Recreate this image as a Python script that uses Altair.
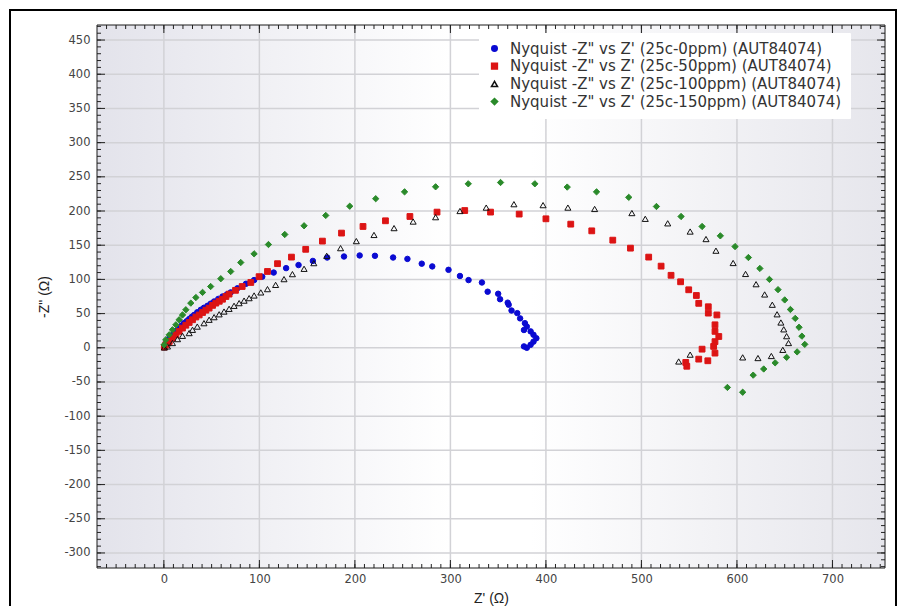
import altair as alt
import pandas as pd

# ---------------- data ----------------
series_names = [
    'Nyquist -Z" vs Z\' (25c-0ppm) (AUT84074)',
    'Nyquist -Z" vs Z\' (25c-50ppm) (AUT84074)',
    'Nyquist -Z" vs Z\' (25c-100ppm) (AUT84074)',
    'Nyquist -Z" vs Z\' (25c-150ppm) (AUT84074)',
]

blue_x = [0.3, 1, 2, 4, 5.6, 8, 10.8, 13, 16, 18.5, 21, 24, 26.5, 29, 31.7, 35, 38.7, 42, 45.7, 49,
          52.6, 57, 61.4, 66, 70, 77, 86, 94.5, 103, 115, 128, 141, 156, 171, 188.6, 205, 221, 240,
          255, 270, 281, 298, 310, 319, 333, 339, 350, 352, 360, 361, 364, 370, 373, 378, 380, 377,
          384, 387, 390, 387, 384, 377, 380]
blue_y = [1, 3, 6, 10, 14, 18, 21.5, 25, 29, 32.5, 36, 39, 42, 45, 48, 52, 55.6, 58.5, 61.4, 64.5,
          67.7, 71.5, 75, 78, 81, 87, 93.6, 99, 104, 110, 116.5, 121, 127, 132, 133.5, 135, 134.5, 132,
          130, 123, 119, 114, 105, 99, 95.5, 82, 79, 71, 66, 63, 54.5, 50.7, 43, 36, 31, 26,
          24, 19, 14, 9, 4.4, 2, 0]

red_x = [0.5, 2, 4, 5.6, 9, 12.6, 16, 19.5, 23, 26.5, 30, 33.5, 37, 40.5, 44, 47.4, 51, 54.4, 58, 61.4,
         65, 68.3, 75, 82, 91, 99.7, 108.5, 119, 133.6, 148.5, 166, 186, 208.5, 232, 257.6, 286, 315,
         342, 372, 400, 426, 448, 470, 488.5, 507.6, 520.6, 531, 541, 549.5, 557.5, 560, 570, 570,
         579, 577, 577, 581, 577, 575.6, 577, 563.5, 560, 569.5, 546.4, 547.5]
red_y = [1, 4.4, 7, 9.2, 14, 19, 24, 28.8, 33, 37, 41, 45, 48, 51.6, 55, 58, 62, 65.3, 68, 71,
         75, 78.5, 84, 89.6, 95.5, 104, 111.6, 123, 132.6, 144, 156, 167.7, 177.4, 185.7, 192, 198.4, 200.7,
         198.4, 195.5, 188.6, 180.8, 171, 157.4, 145.7, 132.6, 119.4, 106, 96.5, 84.8, 76.5, 65, 60, 50.7,
         48, 33.6, 24, 16.5, 9, 2, -7.8, -2, -16.6, -19, -21.4, -27]

black_x = [0.5, 3.8, 9, 14.3, 19.5, 26.5, 30, 35, 42, 47.4, 52.6, 57.9, 63, 68.3, 73.5, 78.8, 84, 89.3,
           94.5, 101.5, 108.5, 117, 125.8, 134.6, 146.8, 157, 170.5, 185, 201.5, 220, 241, 261, 284.5,
           310, 337.5, 366.5, 397, 423, 451, 490, 504, 527.5, 551, 567.6, 578, 596, 609, 620, 629, 637,
           642, 646, 649, 652, 654, 648, 636, 622, 606, 551, 539]
black_y = [0.5, 2, 7, 12.7, 17.5, 21.5, 26.3, 31, 36, 41, 44.8, 49, 53, 57, 61.4, 65.3, 69, 72.6,
           76.5, 81, 85.8, 92, 100.4, 107.7, 115.5, 123.8, 134.5, 145.7, 156, 165, 175, 184.6, 191,
           200, 205, 210, 208.6, 205, 203, 197, 188.6, 182, 170, 159, 142, 124, 108, 93, 78, 63,
           49, 37, 27, 17, 7, -3, -12, -15, -14, -10, -20]

green_x = [0.3, 2, 5.6, 9, 12.6, 16, 19.5, 23, 28.2, 33.5, 40.5, 49, 59.6, 70, 80.5, 94.5, 109.5,
           126.6, 146.8, 169.5, 194.6, 221.8, 252, 284.5, 318.7, 352.5, 388.4, 422.3, 453, 486.7,
           515.7, 541.5, 563.5, 582.6, 598, 612, 624, 634, 643, 650, 656, 661, 665, 668, 671, 663,
           652, 640, 628, 617, 606, 590]
green_y = [4.4, 11.7, 19, 26.3, 33.6, 41, 48, 55.6, 65.3, 73.5, 81, 89.6, 101, 111.6, 124.7, 137.4, 151,
           165.7, 178.4, 193.5, 207, 218, 228, 235.4, 239.8, 241.7, 239.8, 235, 228, 220,
           206.6, 192, 177.4, 163.7, 148, 132, 116, 100, 85, 70, 56, 43, 30, 17, 5, -6,
           -14, -22, -31, -40, -65, -58]

# axis ticks / grid values
x_major = [0, 100, 200, 300, 400, 500, 600, 700]
y_major = [-300, -250, -200, -150, -100, -50, 0, 50, 100, 150, 200, 250, 300, 350, 400, 450]
x_minor = list(range(-60, 751, 10))
y_minor = list(range(-320, 471, 10))

# ---------------- layout ----------------
W, H = 788, 543
PAD_L, PAD_T, PAD_R, PAD_B = 89, 17, 13, 38
XDOM = [-70, 755]
YDOM = [-322, 472]
FONT = "Liberation Sans"
COLORS = ["#0a0ad2", "#dc1414", "#111111", "#2a8a2a"]
HYPHEN = "datum.value < 0 ? '-' + abs(datum.value) : '' + datum.value"

xs = alt.Scale(domain=XDOM, nice=False, zero=False)
ys = alt.Scale(domain=YDOM, nice=False, zero=False)

ax_x = alt.Axis(title="Z' (Ω)", values=x_major, ticks=False, domain=False, grid=False,
                labelPadding=5, labelFontSize=11.5, labelColor="#444", labelFont="DejaVu Sans",
                labelExpr=HYPHEN,
                titleFont=FONT, titleFontSize=14, titleFontWeight="normal", titleColor="#222",
                titlePadding=7)
ax_y = alt.Axis(title='-Z" (Ω)', values=y_major, ticks=False, domain=False, grid=False,
                labelPadding=7, labelFontSize=11.5, labelColor="#444", labelFont="DejaVu Sans",
                labelExpr=HYPHEN,
                titleFont=FONT, titleFontSize=14, titleFontWeight="normal", titleColor="#222",
                titlePadding=12)

rows = []
for name, xv, yv in zip(series_names, [blue_x, red_x, black_x, green_x],
                        [blue_y, red_y, black_y, green_y]):
    for a, b in zip(xv, yv):
        rows.append({"series": name, "x": a, "y": b})
df = pd.DataFrame(rows)

grad = alt.Gradient(
    gradient="linear",
    stops=[
        alt.GradientStop(color="#e3e3eb", offset=0),
        alt.GradientStop(color="#ffffff", offset=0.45),
        alt.GradientStop(color="#ffffff", offset=0.55),
        alt.GradientStop(color="#e6e6ec", offset=1),
    ],
    x1=0, x2=1, y1=0, y2=0,
)

one = alt.Data(values=[{}])

bg = alt.Chart(one).mark_rect(color=grad).encode(
    x=alt.value(0), x2=alt.value(W), y=alt.value(0), y2=alt.value(H)
)

gx = alt.Chart(pd.DataFrame({"x": x_major})).mark_rule(color="#d2d2d6", strokeWidth=1.5).encode(
    x=alt.X("x:Q", scale=xs, axis=ax_x), y=alt.value(0), y2=alt.value(H)
)
gy = alt.Chart(pd.DataFrame({"y": y_major})).mark_rule(color="#d2d2d6", strokeWidth=1.5).encode(
    y=alt.Y("y:Q", scale=ys, axis=ax_y), x=alt.value(0), x2=alt.value(W)
)

def xticks(vals, ln):
    d = pd.DataFrame({"x": vals})
    b = alt.Chart(d).mark_rule(color="#222", strokeWidth=1).encode(
        x=alt.X("x:Q", scale=xs, axis=ax_x), y=alt.value(H - ln), y2=alt.value(H))
    t = alt.Chart(d).mark_rule(color="#222", strokeWidth=1).encode(
        x=alt.X("x:Q", scale=xs, axis=ax_x), y=alt.value(0), y2=alt.value(ln))
    return [b, t]

def yticks(vals, ln):
    d = pd.DataFrame({"y": vals})
    l = alt.Chart(d).mark_rule(color="#222", strokeWidth=1).encode(
        y=alt.Y("y:Q", scale=ys, axis=ax_y), x=alt.value(0), x2=alt.value(ln))
    r = alt.Chart(d).mark_rule(color="#222", strokeWidth=1).encode(
        y=alt.Y("y:Q", scale=ys, axis=ax_y), x=alt.value(W - ln), x2=alt.value(W))
    return [l, r]

tick_layers = xticks(x_minor, 4) + xticks(x_major, 8) + yticks(y_minor, 4) + yticks(y_major, 8)

frame = alt.Chart(one).mark_rect(filled=False, stroke="#1a1a1a", strokeWidth=1).encode(
    x=alt.value(0), x2=alt.value(W), y=alt.value(0), y2=alt.value(H)
)

# outer black border of the picture (left, top, right)
ob_left = alt.Chart(one).mark_rule(color="black", strokeWidth=2).encode(
    x=alt.value(-PAD_L + 2), y=alt.value(-PAD_T + 1), y2=alt.value(H + PAD_B))
ob_top = alt.Chart(one).mark_rule(color="black", strokeWidth=2).encode(
    y=alt.value(-PAD_T + 2), x=alt.value(-PAD_L + 1), x2=alt.value(W + PAD_R - 1))
ob_right = alt.Chart(one).mark_rule(color="black", strokeWidth=2).encode(
    x=alt.value(W + PAD_R - 2), y=alt.value(-PAD_T + 1), y2=alt.value(H + PAD_B))

leg = alt.Legend(title=None, orient="none", legendX=382, legendY=8,
                 labelFont="DejaVu Sans", labelFontSize=15, labelColor="#333",
                 rowPadding=1.7, labelOffset=8, padding=8, labelLimit=600,
                 fillColor="white", strokeColor="white",
                 symbolOpacity=1)

points = alt.Chart(df).mark_point(opacity=1, strokeWidth=1).encode(
    x=alt.X("x:Q", scale=xs, axis=ax_x),
    y=alt.Y("y:Q", scale=ys, axis=ax_y),
    shape=alt.Shape("series:N", scale=alt.Scale(domain=series_names,
                    range=["circle", "square", "triangle-up", "diamond"]), legend=leg),
    fill=alt.Fill("series:N", scale=alt.Scale(domain=series_names,
                  range=[COLORS[0], COLORS[1], "transparent", COLORS[3]]), legend=leg),
    stroke=alt.Stroke("series:N", scale=alt.Scale(domain=series_names, range=COLORS), legend=leg),
    size=alt.Size("series:N", scale=alt.Scale(domain=series_names, range=[30, 40, 30, 26]), legend=leg),
)

chart = alt.layer(
    bg, gx, gy, *tick_layers, points, frame, ob_left, ob_top, ob_right
).properties(
    width=W, height=H,
    autosize=alt.AutoSizeParams(type="none"),
    padding={"left": PAD_L, "top": PAD_T, "right": PAD_R, "bottom": PAD_B},
    background="white",
).configure_view(stroke=None)

chart.save("out.html", embed_options={"renderer": "svg", "actions": False})
